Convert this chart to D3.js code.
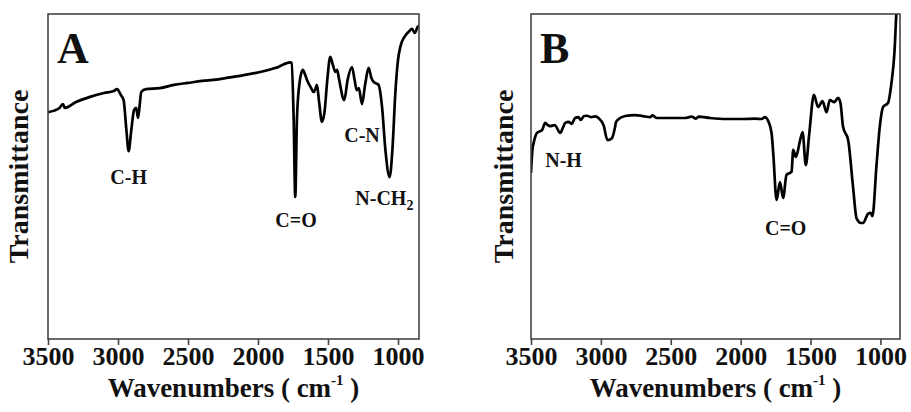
<!DOCTYPE html>
<html>
  <head>
    <meta charset="UTF-8" />
    <script src="https://cdnjs.cloudflare.com/ajax/libs/d3/7.8.5/d3.min.js"></script>
    <style>
      body { margin: 0; background: #fff; }
      svg text { font-family: "Liberation Serif", "Times New Roman", serif; font-weight: bold; fill: #111; }
      rect.frame { fill: none; stroke: #444; stroke-width: 1.6; }
      path.spectrum { fill: none; stroke: #000; stroke-width: 2.7; stroke-linejoin: round; }
      .axis path { display: none; }
      .axis line { stroke: #444; stroke-width: 1.6; }
    </style>
  </head>
  <body>
    <svg id="chart" width="911" height="412"></svg>
    <script>
      // spectrum A
      var wavenumbersA = [3500, 3420, 3393, 3380, 3300, 3200, 3100, 3030, 3007, 2980, 2960, 2940, 2924, 2905, 2885, 2870, 2857, 2845, 2834, 2800, 2700, 2600, 2500, 2400, 2300, 2200, 2100, 2000, 1900, 1850, 1800, 1770, 1760, 1745, 1734, 1722, 1705, 1680, 1665, 1650, 1620, 1603, 1590, 1579, 1565, 1543, 1525, 1505, 1484, 1465, 1448, 1435, 1420, 1384, 1360, 1329, 1310, 1295, 1280, 1257, 1235, 1210, 1190, 1174, 1150, 1139, 1114, 1090, 1060, 1040, 1019, 1000, 984, 950, 924, 900, 880, 860, 848];
      var transmittanceA = [69.8, 71.0, 72.3, 71.1, 72.9, 74.5, 75.7, 76.3, 76.9, 75.1, 73.5, 64.3, 57.8, 64.3, 70.5, 71.1, 68.0, 72.0, 76.0, 76.9, 77.2, 78.2, 78.8, 79.4, 79.8, 80.5, 81.2, 82.0, 83.1, 83.8, 84.8, 85.1, 84.9, 67.4, 43.7, 67.4, 78.2, 82.8, 81.5, 79.7, 77.2, 76.0, 76.9, 78.2, 73.5, 66.8, 69.8, 79.7, 86.8, 84.3, 82.2, 82.8, 79.7, 73.5, 79.7, 83.7, 79.7, 76.6, 77.2, 72.3, 78.2, 83.4, 80.3, 79.1, 78.5, 78.2, 71.4, 58.2, 49.8, 58.2, 75.7, 85.8, 89.8, 93.2, 94.5, 95.4, 94.2, 96.0, 96.3];

      // spectrum B
      var wavenumbersB = [3500, 3490, 3481, 3457, 3421, 3398, 3380, 3362, 3330, 3291, 3270, 3255, 3230, 3210, 3184, 3160, 3145, 3120, 3100, 3070, 3040, 3017, 2981, 2953, 2921, 2900, 2891, 2862, 2826, 2755, 2700, 2648, 2630, 2600, 2500, 2400, 2350, 2320, 2300, 2219, 2100, 1981, 1900, 1850, 1826, 1803, 1779, 1767, 1743, 1719, 1696, 1672, 1636, 1624, 1605, 1576, 1557, 1534, 1510, 1476, 1446, 1414, 1386, 1362, 1330, 1303, 1286, 1267, 1231, 1196, 1171, 1140, 1124, 1089, 1070, 1057, 1029, 1005, 981, 946, 921, 900, 886, 870, 860];
      var transmittanceB = [51.1, 58.2, 60.3, 63.4, 64.3, 66.5, 65.8, 65.5, 65.8, 63.4, 65.2, 66.5, 66.8, 66.2, 68.0, 68.3, 67.4, 68.6, 68.7, 68.3, 68.5, 68.0, 65.8, 61.2, 61.8, 64.9, 66.8, 68.0, 68.6, 68.9, 68.6, 68.3, 68.8, 68.0, 68.0, 68.0, 68.4, 67.8, 68.4, 68.0, 67.7, 67.7, 67.8, 67.7, 68.3, 67.1, 63.4, 57.2, 42.8, 48.3, 43.4, 50.5, 51.4, 58.2, 56.0, 60.9, 63.7, 53.5, 62.8, 75.1, 71.4, 73.2, 69.8, 73.5, 72.9, 74.2, 72.6, 65.2, 61.2, 46.8, 37.2, 35.7, 35.7, 38.5, 38.8, 37.8, 52.9, 65.2, 71.4, 72.6, 78.8, 88.0, 100.3, 110.0, 116.6];

      var xTicks = [3500, 3000, 2500, 2000, 1500, 1000];
      var xTitle = "Wavenumbers ( cm";
      var yTitle = "Transmittance";

      var bandsA = [
        { text: "C-H", wn: 3055, t: 47.7 },
        { text: "C=O", wn: 1876, t: 34.5 },
        { text: "C-N", wn: 1384, t: 60.6 },
        { text: "N-CH", sub: "2", wn: 1305, t: 41.2 }
      ];
      var bandsB = [
        { text: "N-H", wn: 3398, t: 52.9 },
        { text: "C=O", wn: 1826, t: 32.0 }
      ];

      var svg = d3.select("#chart");

      function drawPanel(id, letter, wn, tr, bands, left, right, xMin, ylabelX) {
        var top = 14, bottom = 339;
        var x = d3.scaleLinear().domain([3500, xMin]).range([left, right]);
        var y = d3.scaleLinear().domain([0, 100]).range([bottom, top]);

        var g = svg.append("g");

        g.append("clipPath").attr("id", "clip" + id)
          .append("rect")
          .attr("x", left).attr("y", top)
          .attr("width", right - left).attr("height", bottom - top);

        var line = d3.line()
          .x((d, i) => x(wn[i]))
          .y(d => y(d))
          .curve(d3.curveMonotoneX);

        g.append("path")
          .datum(tr)
          .attr("class", "spectrum")
          .attr("clip-path", "url(#clip" + id + ")")
          .attr("d", line);

        g.append("rect")
          .attr("class", "frame")
          .attr("x", left).attr("y", top)
          .attr("width", right - left).attr("height", bottom - top);

        var axis = g.append("g")
          .attr("class", "axis")
          .attr("transform", "translate(0," + bottom + ")")
          .call(d3.axisBottom(x).tickValues(xTicks).tickSize(6).tickSizeOuter(0).tickFormat(d3.format("d")));
        axis.selectAll("text")
          .style("font-size", "26px")
          .attr("fill", "#111")
          .attr("y", 8);

        var title = g.append("text")
          .attr("x", (left + right) / 2)
          .attr("y", 397)
          .attr("text-anchor", "middle")
          .style("font-size", "27px");
        title.append("tspan").text(xTitle);
        title.append("tspan").attr("dy", -12).style("font-size", "15px").text("-1");
        title.append("tspan").attr("dy", 12).text(" )");

        g.append("text")
          .attr("transform", "translate(" + ylabelX + "," + (top + bottom) / 2 + ") rotate(-90)")
          .attr("text-anchor", "middle")
          .style("font-size", "28px")
          .text(yTitle);

        g.append("text")
          .attr("x", left + 9)
          .attr("y", 63)
          .style("font-size", "44px")
          .text(letter);

        bands.forEach(b => {
          var t = g.append("text")
            .attr("x", x(b.wn))
            .attr("y", y(b.t))
            .style("font-size", "20px");
          t.append("tspan").text(b.text);
          if (b.sub) t.append("tspan").attr("dy", 5).style("font-size", "14px").text(b.sub);
        });
      }

      drawPanel("A", "A", wavenumbersA, transmittanceA, bandsA, 48, 419, 850, 28);
      drawPanel("B", "B", wavenumbersB, transmittanceB, bandsB, 531, 900, 860, 513);
    </script>
  </body>
</html>
